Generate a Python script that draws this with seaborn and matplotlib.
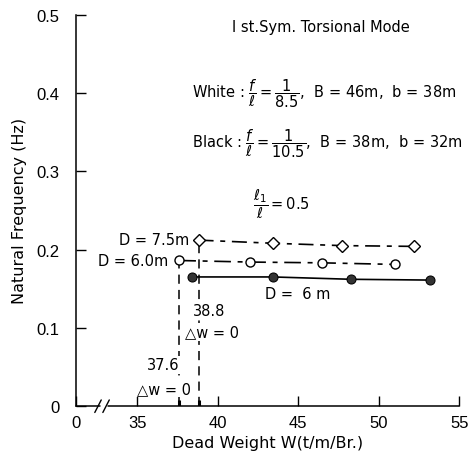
import matplotlib
matplotlib.use("Agg")
import matplotlib.pyplot as plt
import seaborn as sns
import numpy as np

# ---- data ----
w_diamond = [38.8, 43.4, 47.7, 52.2]
f_diamond = [0.212, 0.208, 0.205, 0.204]
w_circle = [37.6, 42.0, 46.5, 51.0]
f_circle = [0.186, 0.184, 0.183, 0.181]
w_black = [38.4, 43.4, 48.3, 53.2]
f_black = [0.165, 0.165, 0.162, 0.161]
dw0_white = 37.6
dw0_black = 38.8
x_ticks = [35, 40, 45, 50, 55]
y_ticks = [0.1, 0.2, 0.3, 0.4, 0.5]
x_zero_pos = 31.2   # position of the broken-axis "0" label

sns.set_theme(style="ticks")
plt.rcParams['font.family'] = ['DejaVu Sans']
plt.rcParams['mathtext.fontset'] = 'dejavusans'
plt.rcParams['text.color'] = 'black'
plt.rcParams['axes.labelcolor'] = 'black'
plt.rcParams['xtick.color'] = 'black'
plt.rcParams['ytick.color'] = 'black'

fig = plt.figure(figsize=(4.71, 4.56), dpi=100)
ax = fig.add_axes([0.162, 0.107, 0.813, 0.859])
fs = 10.5
tfont = {'family': 'Liberation Sans', 'size': 12}
wbox = dict(facecolor='white', edgecolor='none', pad=0.8)

sns.lineplot(x=w_diamond, y=f_diamond, ax=ax, color='black', lw=1.2,
             linestyle=(0, (9, 4, 3, 4)), marker='D', markersize=6.5,
             markerfacecolor='white', markeredgecolor='black', markeredgewidth=1.0,
             zorder=3)
sns.lineplot(x=w_circle, y=f_circle, ax=ax, color='black', lw=1.2,
             linestyle=(0, (10, 4, 3, 4)), marker='o', markersize=6.5,
             markerfacecolor='white', markeredgecolor='black', markeredgewidth=1.0,
             zorder=3)
sns.lineplot(x=w_black, y=f_black, ax=ax, color='black', lw=1.2,
             linestyle='-', marker='o', markersize=6.5,
             markerfacecolor='#333333', markeredgecolor='black', zorder=3)

# vertical dashed lines at delta w = 0
ax.vlines([dw0_white], 0, f_circle[0], colors='black', linestyles=(0, (6, 4)), lw=1.1, zorder=2)
ax.vlines([dw0_black], 0, f_diamond[0], colors='black', linestyles=(0, (6, 4)), lw=1.1, zorder=2)

ax.set_xlim(x_zero_pos, 55)
ax.set_ylim(0, 0.5)
ax.set_xticks([x_zero_pos] + x_ticks)
ax.set_xticklabels(['0'] + [str(t) for t in x_ticks], fontdict=tfont)
ax.set_yticks([0] + y_ticks)
ax.set_yticklabels(['0'] + ['%.1f' % t for t in y_ticks], fontdict=tfont)
ax.tick_params(axis='both', direction='in', length=7, width=1.0, colors='black')
ax.tick_params(axis='x', pad=6)
ax.tick_params(axis='y', pad=12)

# small bold ticks at 37.6 and 38.8
for xv in [dw0_white, dw0_black]:
    ax.plot([xv, xv], [0, 0.008], color='black', lw=2.2, solid_capstyle='butt', zorder=4)

for s in ['top', 'right']:
    ax.spines[s].set_visible(False)
ax.spines['bottom'].set_visible(False)
ax.spines['left'].set_linewidth(1.1)
ax.spines['left'].set_color('black')
# bottom axis with break
ax.plot([x_zero_pos, 32.7], [0, 0], color='black', lw=1.1, clip_on=False, zorder=5)
ax.plot([33.2, 55], [0, 0], color='black', lw=1.1, clip_on=False, zorder=5)
for xb in [32.55, 33.05]:
    ax.plot([xb - 0.2, xb + 0.2], [-0.008, 0.008], color='black', lw=1.0, clip_on=False, zorder=5)

ax.set_xlabel('Dead Weight W(t/m/Br.)', fontsize=11.5, labelpad=4)
ax.set_ylabel('Natural Frequency (Hz)', fontsize=11.5, labelpad=7)

# annotations
ax.text(40.9, 0.485, 'I st.Sym. Torsional Mode', fontsize=fs, va='center', ha='left')
ax.text(38.4, 0.4, r'White : $\dfrac{f}{\ell}=\dfrac{1}{8.5}$,  B = 46m,  b = 38m',
        fontsize=fs, va='center', ha='left', clip_on=False)
ax.text(38.4, 0.336, r'Black : $\dfrac{f}{\ell}=\dfrac{1}{10.5}$,  B = 38m,  b = 32m',
        fontsize=fs, va='center', ha='left', clip_on=False)
ax.text(42.2, 0.259, r'$\dfrac{\ell_1}{\ell} = 0.5$', fontsize=fs, va='center', ha='left')
ax.text(38.2, 0.2126, 'D = 7.5m', fontsize=fs, va='center', ha='right')
ax.text(36.9, 0.1858, 'D = 6.0m', fontsize=fs, va='center', ha='right')
ax.text(42.9, 0.144, 'D =  6 m', fontsize=fs, va='center', ha='left')
ax.text(38.45, 0.122, '38.8', fontsize=fs, va='center', ha='left', bbox=wbox, zorder=6)
ax.text(37.95, 0.0946, '△w = 0', fontsize=fs, va='center', ha='left', bbox=wbox, zorder=6)
ax.text(35.6, 0.0528, '37.6', fontsize=fs, va='center', ha='left', bbox=wbox, zorder=6)
ax.text(35.0, 0.023, '△w = 0', fontsize=fs, va='center', ha='left', bbox=wbox, zorder=6)

fig.savefig('out.png', dpi=100)
